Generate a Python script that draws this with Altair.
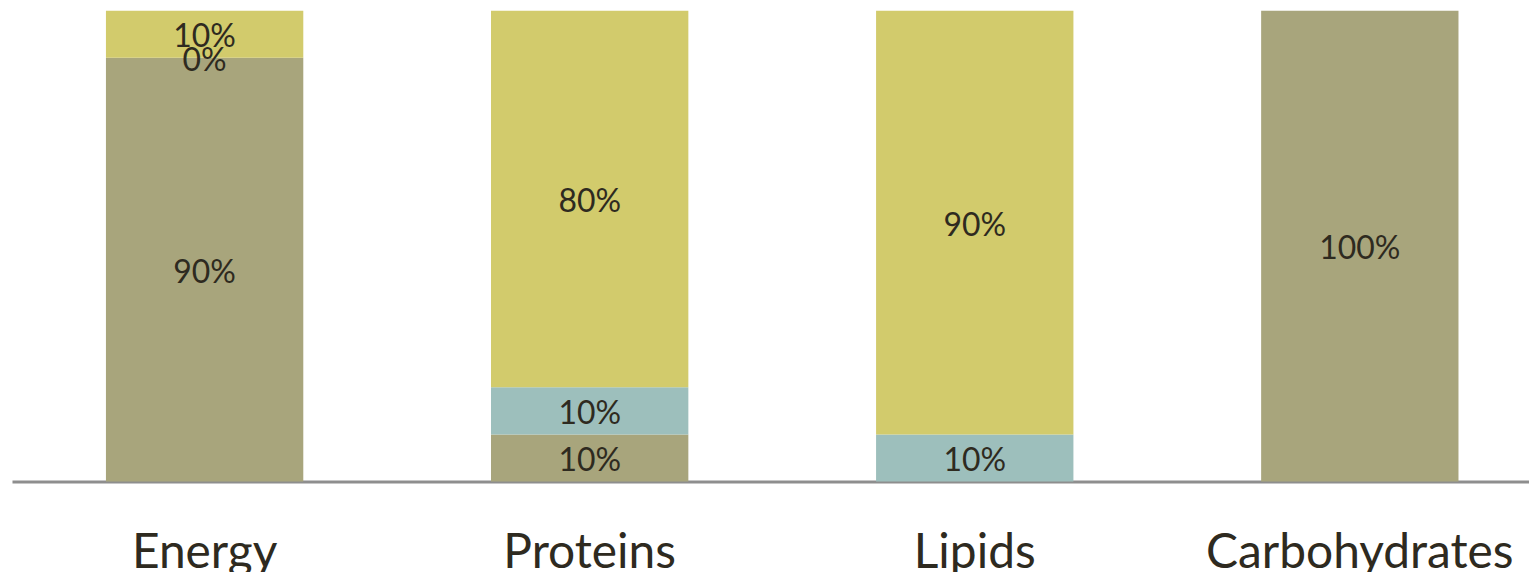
import altair as alt
import pandas as pd

categories = ["Energy", "Proteins", "Lipids", "Carbohydrates"]
series_names = ["Series 1", "Series 2", "Series 3"]
series1 = [90, 10, None, 100]   # khaki (bottom)
series2 = [0, 10, 10, None]     # teal (middle)
series3 = [10, 80, 90, None]    # yellow (top)
colors = ["#A8A57C", "#9DBFBC", "#D2CB6C"]

rows = []
for si, (name, vals) in enumerate(zip(series_names, [series1, series2, series3])):
    for ci, (cat, v) in enumerate(zip(categories, vals)):
        if v is None:
            continue
        rows.append({"category": cat, "series": name, "order": si, "value": v,
                     "label": f"{v}%"})
df = pd.DataFrame(rows)

base = alt.Chart(df).transform_stack(
    stack="value", groupby=["category"], sort=[alt.SortField("order")], as_=["y0", "y1"]
).transform_calculate(mid="(datum.y0 + datum.y1) / 2")

x_enc = alt.X(
    "category:N",
    sort=categories,
    title=None,
    scale=alt.Scale(range=[0, 1544.5], paddingInner=0.4875, paddingOuter=0.244),
    axis=alt.Axis(
        labelAngle=0, ticks=False, tickSize=0, domainColor="#8E8E8E", domainWidth=3,
        labelFont="Lato", labelFontSize=48, labelColor="#2E2A20", labelLimit=0,
        labelBaseline="alphabetic", labelPadding=86, grid=False,
    ),
)
y_scale = alt.Scale(domain=[0, 100], nice=False, zero=True)

bars = base.mark_bar().encode(
    x=x_enc,
    y=alt.Y("y0:Q", scale=y_scale, axis=None),
    y2="y1:Q",
    color=alt.Color("series:N", scale=alt.Scale(domain=series_names, range=colors), legend=None),
)

texts = base.mark_text(font="Lato", fontSize=32, color="#2E2A20", baseline="middle", dy=3).encode(
    x=alt.X("category:N", sort=categories),
    y=alt.Y("mid:Q", scale=y_scale),
    text="label:N",
)

chart = alt.layer(bars, texts).properties(
    width=1521, height=472,
    autosize=alt.AutoSizeParams(type="none"),
    padding={"top": 2, "left": 4, "right": 0, "bottom": 90},
).configure_view(stroke=None)

chart.save("out.html", embed_options={"renderer": "svg", "actions": False})
